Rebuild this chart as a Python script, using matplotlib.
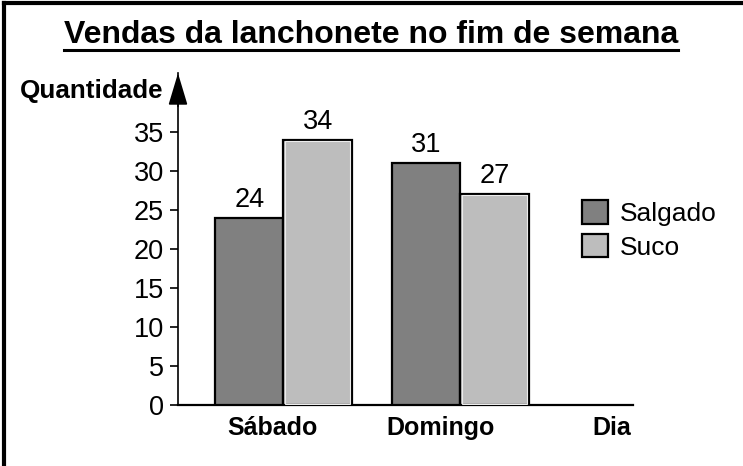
#!/usr/bin/env python3
#
# Vendas da lanchonete no fim de semana: grouped bars, two days
#
import matplotlib
matplotlib.use('Agg')
import matplotlib.pyplot as plt
import numpy as np

# Data
dias = ['Sábado', 'Domingo']
salgado = [24, 31]
suco = [34, 27]
series = ['Salgado', 'Suco']
yticks = [0, 5, 10, 15, 20, 25, 30, 35]

plt.rcParams['font.family'] = ['Liberation Sans', 'DejaVu Sans']

W, H = 743, 466
fig = plt.figure(figsize=(W / 100, H / 100), dpi=100)

# Axes placed in pixel terms
left, right = 178, 633
y0, ytop = 404.7, 73.2
ax = fig.add_axes([left / W, 1 - y0 / H, (right - left) / W, (y0 - ytop) / H])

cdark = '#808080'
clight = '#bdbdbd'
w = 0.385
x = np.arange(len(dias))

ax.bar(x - w / 2, salgado, w, color=cdark, edgecolor='k', lw=1.6, zorder=3,
       label=series[0])
ax.bar(x + w / 2, suco, w, color=clight, edgecolor='k', lw=1.6, zorder=3,
       label=series[1])
# faint inner highlight on the light bars
ax.bar(x + w / 2, np.array(suco) - 0.25, w - 0.02, bottom=0.1,
       facecolor='none', edgecolor='#ececec', lw=0.8, zorder=4)

for xs, vals in ((x - w / 2, salgado), (x + w / 2, suco)):
    for xi, v in zip(xs, vals):
        ax.text(xi, v + 0.6, str(v), ha='center', va='bottom', fontsize=19.5)

ax.set_xlim(-0.596, 1.975)
ax.set_ylim(0, 42.5)

for s in ('top', 'right'):
    ax.spines[s].set_visible(False)
ax.spines['left'].set_linewidth(1.2)
ax.spines['bottom'].set_linewidth(1.6)

ax.set_yticks(yticks)
ax.tick_params(axis='y', labelsize=19.5, length=6, width=1.2, pad=4)

label_shift = np.array([-0.06, -0.115])
ax.set_xticks(x + label_shift)
ax.set_xticklabels(dias, fontsize=18, fontweight='bold')
ax.tick_params(axis='x', length=0, pad=8)
ax.text(0.995, -0.0335, 'Dia', transform=ax.transAxes, ha='right', va='top',
        fontsize=18, fontweight='bold')

# Arrow on the y axis
ax.annotate('', xy=(0, 1.0), xytext=(0, 0.9), xycoords='axes fraction',
            arrowprops=dict(arrowstyle='-|>,head_length=1.0,head_width=0.3',
                            mutation_scale=20, lw=1.2, color='k',
                            shrinkA=0, shrinkB=0))

fig.text(163 / W, 1 - 91 / H, 'Quantidade', ha='right', va='center',
         fontsize=18.7, fontweight='bold')

ax.legend(loc='upper left', bbox_to_anchor=(582 / W, 1 - 200 / H),
          bbox_transform=fig.transFigure, frameon=False, fontsize=19,
          handlelength=1.0, handleheight=1.0, handletextpad=0.45,
          labelspacing=0.3, borderpad=0, borderaxespad=0)

# Title with underline
title = fig.text(371 / W, 1 - 43 / H, 'Vendas da lanchonete no fim de semana',
                 ha='center', va='baseline', fontsize=23, fontweight='bold')
fig.canvas.draw()
bb = title.get_window_extent()
uy = 1 - 50 / H
fig.add_artist(matplotlib.lines.Line2D([bb.x0 / W, bb.x1 / W], [uy, uy],
                                       color='k', lw=2.2,
                                       transform=fig.transFigure))

# Frame (left and top edges visible)
fig.add_artist(matplotlib.lines.Line2D([4 / W, 4 / W], [0, 1 - 3 / H],
                                       color='k', lw=3,
                                       transform=fig.transFigure))
fig.add_artist(matplotlib.lines.Line2D([4 / W, 1], [1 - 3 / H, 1 - 3 / H],
                                       color='k', lw=3,
                                       transform=fig.transFigure))

fig.savefig('out.png', dpi=100)
